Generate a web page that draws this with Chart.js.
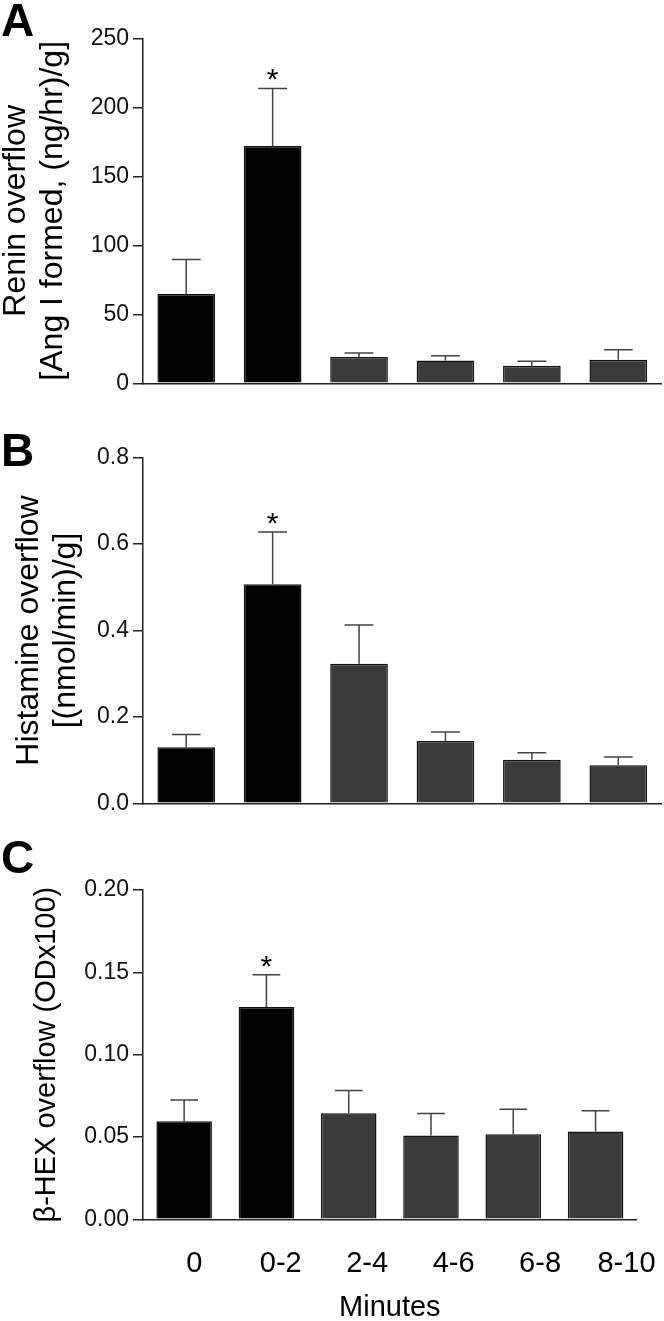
<!DOCTYPE html>
<html lang="en">
<head>
<meta charset="UTF-8" />
<title>Renin, histamine and beta-HEX overflow</title>
<script src="https://cdn.jsdelivr.net/npm/chart.js"></script>
<style>
  html, body { margin: 0; padding: 0; background: #fff; overflow: hidden; }
  body { width: 664px; height: 1321px; position: relative; font-family: "Liberation Sans", Arial, sans-serif; }
  .panel { position: absolute; left: 0; width: 664px; }
  .letter { position: absolute; left: 1px; font-weight: bold; font-size: 46px; line-height: 46px; color: #000; }
</style>
</head>
<body>
  <div class="panel" style="top:0;height:420px"><canvas id="reninChart"></canvas></div>
  <div class="panel" style="top:420px;height:420px"><canvas id="histChart"></canvas></div>
  <div class="panel" style="top:840px;height:481px"><canvas id="hexChart"></canvas></div>
  <div class="letter" style="top:-3px">A</div>
  <div class="letter" style="top:427px">B</div>
  <div class="letter" style="top:834px">C</div>

<script>
  // data (mean and upper SEM)
  const minutes = ["0", "0-2", "2-4", "4-6", "6-8", "8-10"];
  const stars = ["", "*", "", "", "", ""];

  const reninMean = [64.7, 172, 19, 16.6, 12.8, 17.1];
  const reninErr = [25, 41.7, 3, 3.4, 3.1, 7.2];
  const reninTicks = [0, 50, 100, 150, 200, 250];
  const reninTickLabels = ["0", "50", "100", "150", "200", "250"];

  const histMean = [0.130, 0.507, 0.323, 0.144, 0.101, 0.088];
  const histErr = [0.029, 0.121, 0.090, 0.021, 0.016, 0.019];
  const histTicks = [0, 0.2, 0.4, 0.6, 0.8];
  const histTickLabels = ["0.0", "0.2", "0.4", "0.6", "0.8"];

  const hexMean = [0.0596, 0.129, 0.0644, 0.0509, 0.0517, 0.0533];
  const hexErr = [0.0129, 0.0195, 0.0138, 0.0133, 0.0152, 0.0126];
  const hexTicks = [0, 0.05, 0.10, 0.15, 0.20];
  const hexTickLabels = ["0.00", "0.05", "0.10", "0.15", "0.20"];

  const family = '"Liberation Sans", Arial, sans-serif';
  const axisColor = "#222";
  const barFill = ["#000", "#000", "#3b3b3b", "#3b3b3b", "#3b3b3b", "#3b3b3b"];

  // upper error bar + significance star
  const errorBars = {
    id: "errorBars",
    afterDatasetsDraw(chart, args, opts) {
      const ctx = chart.ctx;
      const y = chart.scales.y;
      const vals = chart.data.datasets[0].data;
      ctx.save();
      chart.getDatasetMeta(0).data.forEach((bar, i) => {
        const top = y.getPixelForValue(vals[i] + opts.err[i]);
        const half = bar.width / 4;
        ctx.strokeStyle = "#444";
        ctx.lineWidth = 1.5;
        ctx.beginPath();
        ctx.moveTo(bar.x, bar.y);
        ctx.lineTo(bar.x, top);
        ctx.moveTo(bar.x - half, top);
        ctx.lineTo(bar.x + half, top);
        ctx.stroke();
        if (opts.stars[i]) {
          ctx.fillStyle = "#000";
          ctx.font = "30px " + family;
          ctx.textAlign = "center";
          ctx.textBaseline = "alphabetic";
          ctx.fillText(opts.stars[i], bar.x, top + 1);
        }
      });
      ctx.restore();
    }
  };

  function makeChart(id, cfg) {
    const scales = {
      x: {
        type: "category",
        offset: true,
        grid: { display: false, drawTicks: false },
        ticks: { display: false },
        border: { display: true, color: axisColor, width: 1.5 },
        afterFit: s => { s.height = 0; }
      },
      y: {
        min: 0,
        max: cfg.ticks[cfg.ticks.length - 1],
        afterBuildTicks: s => { s.ticks = cfg.ticks.map(v => ({ value: v })); },
        border: { display: true, color: axisColor, width: 1.5 },
        grid: { display: true, drawOnChartArea: false, drawTicks: true, tickLength: 10,
                color: axisColor, tickColor: axisColor, lineWidth: 1.5, tickWidth: 1.5 },
        ticks: { padding: 4, color: "#111", font: { size: 23, family: family },
                 callback: (v, i) => cfg.tickLabels[i] },
        title: { display: true, text: cfg.title, color: "#000",
                 font: { size: cfg.titleSize, family: family, lineHeight: 1.15 },
                 padding: { top: cfg.titlePad, bottom: 0 } },
        afterFit: s => { s.width = 143; }
      }
    };
    if (cfg.showMinutes) {
      // label row sits on a wider spacing than the bars, as in the original figure
      scales.x2 = {
        type: "linear",
        position: "bottom",
        offset: false,
        min: -0.593,
        max: 5.118,
        grid: { display: false, drawTicks: false, offset: false },
        border: { display: false },
        afterBuildTicks: s => { s.ticks = minutes.map((m, i) => ({ value: i })); },
        ticks: { autoSkip: false, maxRotation: 0, padding: 27, color: "#000",
                 font: { size: 29, family: family }, callback: v => minutes[v] },
        title: { display: true, text: "Minutes", color: "#000",
                 font: { size: 29, family: family, lineHeight: 0.9 }, padding: 0 },
        afterFit: s => {
          s.height = cfg.labelBand;
          s.paddingLeft = 0;
          s.paddingRight = 0;
        }
      };
    }
    return new Chart(document.getElementById(id), {
      type: "bar",
      data: {
        labels: minutes,
        datasets: [{
          data: cfg.mean,
          xAxisID: "x",
          yAxisID: "y",
          backgroundColor: barFill,
          borderColor: "#111",
          borderWidth: 1.5,
          barPercentage: cfg.barPct,
          categoryPercentage: 1
        }]
      },
      options: {
        responsive: true,
        maintainAspectRatio: false,
        animation: false,
        layout: { padding: cfg.padding },
        plugins: {
          legend: { display: false },
          tooltip: { enabled: false },
          errorBars: { err: cfg.err, stars: stars }
        },
        scales: scales
      },
      plugins: [errorBars]
    });
  }

  makeChart("reninChart", {
    mean: reninMean, err: reninErr, ticks: reninTicks, tickLabels: reninTickLabels,
    title: ["Renin overflow", "[Ang I formed, (ng/hr)/g]"], titleSize: 32, titlePad: -2.4,
    barPct: 0.667, padding: { top: 38.3, bottom: 36.7, left: 0, right: 2.5 }
  });

  makeChart("histChart", {
    mean: histMean, err: histErr, ticks: histTicks, tickLabels: histTickLabels,
    title: ["Histamine overflow", "[(nmol/min)/g]"], titleSize: 32, titlePad: 10.6,
    barPct: 0.667, padding: { top: 37.7, bottom: 36.7, left: 0, right: 2.5 }
  });

  makeChart("hexChart", {
    mean: hexMean, err: hexErr, ticks: hexTicks, tickLabels: hexTickLabels,
    title: "\u03B2-HEX overflow (ODx100)", titleSize: 29, titlePad: 30.3,
    barPct: 0.675, padding: { top: 50, bottom: 0, left: 0, right: 27.3 },
    showMinutes: true, labelBand: 101.7
  });
</script>
</body>
</html>
